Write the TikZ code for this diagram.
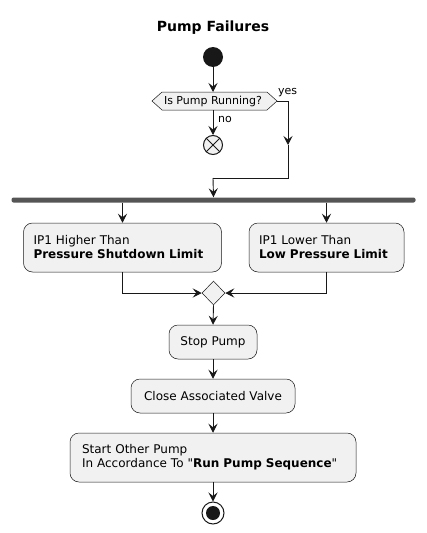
\documentclass[tikz,border=0pt]{standalone}
\usepackage{fontspec}
\setmainfont{DejaVu Sans}[Ligatures=TeXOff]
\usepackage{tikz}
\usetikzlibrary{arrows.meta,calc,positioning,shapes.geometric}

\definecolor{boxfill}{HTML}{F1F1F1}
\definecolor{boxline}{HTML}{181818}
\definecolor{barfill}{HTML}{555555}

\begin{document}
\begin{tikzpicture}[x=1pt,y=-1pt,>={Stealth[length=9pt,width=9pt,inset=3.5pt]},
  act/.style={draw=boxline,line width=.5pt,fill=boxfill,rounded corners=9pt,align=left,font=\fontsize{12}{14}\selectfont,inner sep=0pt},
  flow/.style={->,line width=.9pt,draw=boxline},
  lbl/.style={font=\fontsize{11}{13}\selectfont,inner sep=0pt}]
\useasboundingbox (0,0) rectangle (426,533);
% title
\node[font=\bfseries\fontsize{14}{16}\selectfont] (title) at (213,28) {Pump Failures};
% start and the question
\node[circle,fill=boxline,minimum size=20pt,inner sep=0pt] (start) at (213,57) {};
\coordinate (askW) at (152,101); \coordinate (askE) at (277,101);
\fill[boxfill] (askW)--(162,92)--(267,92)--(askE)--(267,110)--(162,110)--cycle;
\draw[boxline,line width=.5pt] (askW)--(162,92)--(267,92)--(askE)--(267,110)--(162,110)--cycle;
\node[lbl] (ask) at (213,101) {Is Pump Running?};
\coordinate (askS) at (213,110); \coordinate (askN) at (213,92);
\draw[flow] (start) -- (askN);
\node[lbl,anchor=west] (yes) at (278,93) {yes};
\node[lbl,anchor=west] (no) at (218,119) {no};
\node[circle,draw=boxline,line width=1pt,fill=boxfill,minimum size=19pt,inner sep=0pt] (stop) at (213,145) {};
\draw[line width=1pt,boxline] (stop.north west)--(stop.south east) (stop.north east)--(stop.south west);
\draw[flow] (askS) -- (stop);
% yes branch
\coordinate (yesA) at (288,101); \coordinate (yesB) at (288,145); \coordinate (yesC) at (288,178); \coordinate (yesD) at (213,178);
\draw[flow] (askE) -- (yesA) -- (yesB);
\draw[line width=.9pt,boxline] (yesB) -- (yesC) -- (yesD);
% fork
\node[fill=barfill,minimum width=404pt,minimum height=5pt,inner sep=0pt,rounded corners=2pt] (fork) at (213.5,200) {};
\draw[flow] (yesD) -- (fork.north);
\node[act,text width=178pt,inner xsep=10pt,minimum height=49pt] (hi) at (122.5,247.5) {IP1 Higher Than\\\textbf{Pressure Shutdown Limit}};
\node[act,text width=135pt,inner xsep=10pt,minimum height=49pt] (lo) at (326.5,247.5) {IP1 Lower Than\\\textbf{Low Pressure Limit}};
\draw[flow] (fork.south -| hi.north) -- (hi.north);
\draw[flow] (fork.south -| lo.north) -- (lo.north);
% merge
\node[diamond,draw=boxline,line width=.5pt,fill=boxfill,minimum width=23pt,minimum height=24pt,inner sep=0pt] (merge) at (213.5,293) {};
\draw[flow] (hi.south) |- (merge.west);
\draw[flow] (lo.south) |- (merge.east);
% actions
\node[act,minimum width=88pt,minimum height=34pt] (halt) at (213,342) {Stop Pump};
\node[act,minimum width=164pt,minimum height=34pt] (valve) at (213,396) {Close Associated Valve};
\node[act,text width=262pt,inner xsep=12pt,minimum height=49pt] (other) at (213,457.5) {Start Other Pump\\In Accordance To "\textbf{Run Pump Sequence}"};
\draw[flow] (merge.south) -- (halt.north);
\draw[flow] (halt.south) -- (valve.north);
\draw[flow] (valve.south) -- (other.north);
% end
\node[circle,draw=boxline,line width=1pt,fill=white,minimum size=22pt,inner sep=0pt] (done) at (213,513) {};
\fill[boxline] (done.center) circle (7pt);
\draw[flow] (other.south) -- (done.north);
\end{tikzpicture}
\end{document}
